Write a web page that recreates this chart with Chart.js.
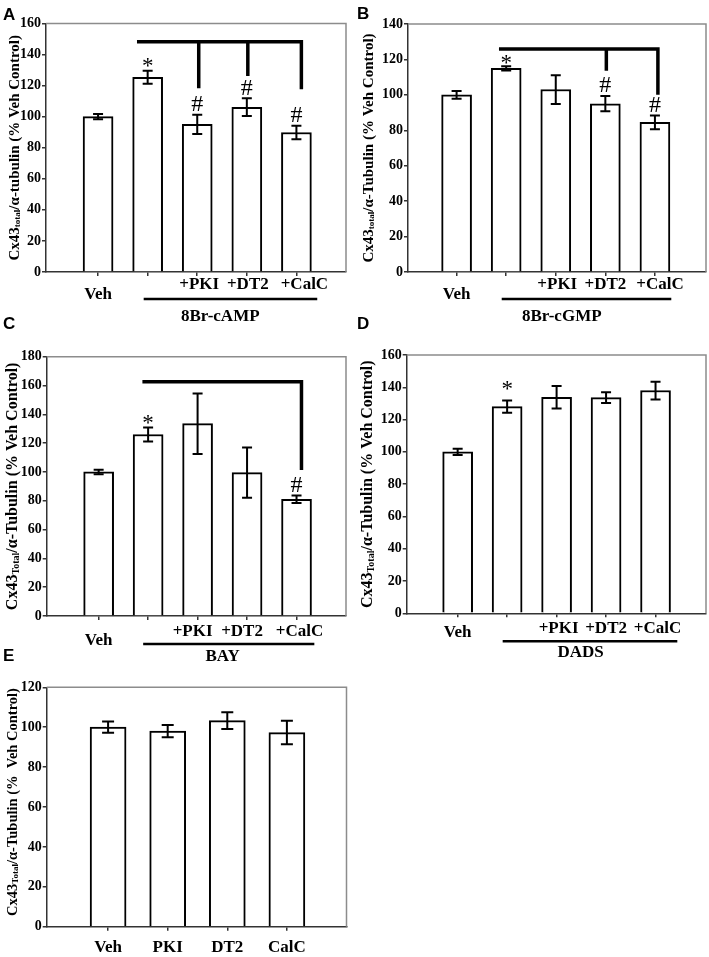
<!DOCTYPE html>
<html><head><meta charset="utf-8">
<script src="https://cdn.jsdelivr.net/npm/chart.js@4.4.1/dist/chart.umd.min.js"></script>
<style>
html,body{margin:0;padding:0;background:#fff;}
#wrap{position:relative;width:709px;height:957px;overflow:hidden;background:#fff;}
canvas{position:absolute;}
</style></head><body><div id="wrap">
<canvas id="cA" width="354" height="330" style="left:0px;top:0px"></canvas>
<canvas id="cB" width="355" height="330" style="left:354px;top:0px"></canvas>
<canvas id="cC" width="354" height="358" style="left:0px;top:310px"></canvas>
<canvas id="cD" width="355" height="358" style="left:354px;top:310px"></canvas>
<canvas id="cE" width="354" height="317" style="left:0px;top:640px"></canvas>
</div>
<script>
// ---------------- DATA ----------------
const catsA = ['Veh', '', '+PKI', '+DT2', '+CalC'];
const meanA = [100, 125.4, 95.1, 106.1, 89.8];
const errA  = [1.7, 4.2, 6.2, 5.7, 4.4];
const sigA  = ['', '*', '#', '#', '#'];
const yTicksA = [0, 20, 40, 60, 80, 100, 120, 140, 160];
const groupA = '8Br-cAMP';
const brA_y = 148.2, brA_from = 0.82;
const brA_dropX = [2.03, 3.02, 4.10];
const brA_dropY = [119.4, 127.4, 118.8];

const catsB = ['Veh', '', '+PKI', '+DT2', '+CalC'];
const meanB = [100, 115, 103, 95, 84.5];
const errB  = [2.2, 1.2, 8.1, 4.3, 3.9];
const sigB  = ['', '*', '', '#', '#'];
const yTicksB = [0, 20, 40, 60, 80, 100, 120, 140];
const groupB = '8Br-cGMP';
const brB_y = 125.9, brB_from = 0.89;
const brB_dropX = [3.02, 4.06];
const brB_dropY = [114.6, 101];

const catsC = ['Veh', '', '+PKI', '+DT2', '+CalC'];
const meanC = [100, 126, 133.5, 99.5, 81];
const errC  = [1.6, 4.8, 21, 17.5, 2.6];
const sigC  = ['', '*', '', '', '#'];
const yTicksC = [0, 20, 40, 60, 80, 100, 120, 140, 160, 180];
const groupC = 'BAY';
const brC_y = 162.6, brC_from = 0.92;
const brC_dropX = [4.10];
const brC_dropY = [102.5];

const catsD = ['Veh', '', '+PKI', '+DT2', '+CalC'];
const meanD = [100, 128, 133.8, 133.6, 138];
const errD  = [2, 3.8, 7, 3.3, 5.5];
const sigD  = ['', '*', '', '', ''];
const yTicksD = [0, 20, 40, 60, 80, 100, 120, 140, 160];
const groupD = 'DADS';

const catsE = ['Veh', 'PKI', 'DT2', 'CalC'];
const meanE = [100, 98, 103.3, 97.3];
const errE  = [2.8, 3.1, 4.2, 5.9];
const sigE  = ['', '', '', ''];
const yTicksE = [0, 20, 40, 60, 80, 100, 120];

// ---------------- DRAWING ----------------
const SERIF = '"Liberation Serif", "Times New Roman", serif';

function drawYTitle(ctx, cx, cy, parts) {
  ctx.save();
  ctx.translate(cx, cy);
  ctx.rotate(-Math.PI / 2);
  ctx.fillStyle = '#000';
  ctx.textBaseline = 'middle';
  ctx.textAlign = 'left';
  let total = 0;
  parts.forEach(p => { ctx.font = 'bold ' + p.size + 'px ' + SERIF; p.w = ctx.measureText(p.t).width; total += p.w; });
  let x = -total / 2;
  parts.forEach(p => { ctx.font = 'bold ' + p.size + 'px ' + SERIF; ctx.fillText(p.t, x, p.dy || 0); x += p.w; });
  ctx.restore();
}

function panel(id, c) {
  const el = document.getElementById(id);
  const data = c.means.map((v, i) => ({ x: i, y: v }));
  const deco = {
    id: 'deco' + id,
    afterDatasetsDraw(chart) {
      const ctx = chart.ctx, a = chart.chartArea, x = chart.scales.x, y = chart.scales.y;
      ctx.save();
      // box top/right
      ctx.strokeStyle = '#8c8c8c'; ctx.lineWidth = 1.5;
      ctx.beginPath(); ctx.moveTo(a.left, a.top); ctx.lineTo(a.right, a.top); ctx.lineTo(a.right, a.bottom); ctx.stroke();
      // error bars + markers
      ctx.strokeStyle = '#000'; ctx.lineWidth = 2; ctx.lineCap = 'butt';
      c.means.forEach((m, i) => {
        const px = x.getPixelForValue(i);
        const t = y.getPixelForValue(m + c.errs[i]);
        const b = y.getPixelForValue(m - c.errs[i]);
        ctx.beginPath();
        ctx.moveTo(px, t); ctx.lineTo(px, b);
        ctx.moveTo(px - c.cap, t); ctx.lineTo(px + c.cap, t);
        ctx.moveTo(px - c.cap, b); ctx.lineTo(px + c.cap, b);
        ctx.stroke();
        const s = c.sig[i];
        if (s) {
          ctx.fillStyle = '#000'; ctx.textAlign = 'center'; ctx.textBaseline = 'alphabetic';
          if (s === '*') {
            ctx.font = '23px ' + SERIF;
            const cy = t - c.starGap;
            ctx.fillText(s, px, cy + 0.46 * 23);
          } else {
            ctx.font = '24px ' + SERIF;
            const cy = t - c.hashGap;
            ctx.fillText(s, px, cy + 0.34 * 24);
          }
        }
      });
      // bracket
      if (c.br) {
        ctx.strokeStyle = '#000'; ctx.lineWidth = 3.5; ctx.lineCap = 'square';
        const yy = y.getPixelForValue(c.br.y);
        const last = c.br.dropX[c.br.dropX.length - 1];
        ctx.beginPath();
        ctx.moveTo(x.getPixelForValue(c.br.from), yy);
        ctx.lineTo(x.getPixelForValue(last), yy);
        c.br.dropX.forEach((dx, k) => {
          ctx.moveTo(x.getPixelForValue(dx), yy);
          ctx.lineTo(x.getPixelForValue(dx), y.getPixelForValue(c.br.dropY[k]));
        });
        ctx.stroke();
      }
      ctx.restore();
    },
    afterDraw(chart) {
      const ctx = chart.ctx, a = chart.chartArea, x = chart.scales.x;
      ctx.save();
      ctx.fillStyle = '#000';
      ctx.textAlign = 'center'; ctx.textBaseline = 'middle';
      ctx.font = 'bold 17px ' + SERIF;
      c.cats.forEach((lab, i) => {
        if (!lab) return;
        const px = x.getPixelForValue(i) + (c.labOff ? c.labOff[i] : 0);
        const yy = a.bottom + ((c.group && i === 0) ? c.vehY : c.catY);
        ctx.fillText(lab, px, yy);
      });
      if (c.group) {
        ctx.strokeStyle = '#000'; ctx.lineWidth = 2.5;
        ctx.beginPath();
        ctx.moveTo(x.getPixelForValue(c.lineFrom), a.bottom + c.lineY);
        ctx.lineTo(x.getPixelForValue(c.lineTo), a.bottom + c.lineY);
        ctx.stroke();
        ctx.fillText(c.group, x.getPixelForValue(2) + c.groupOff, a.bottom + c.groupY);
      }
      // y title
      drawYTitle(ctx, c.titleX, (a.top + a.bottom) / 2 + (c.titleDy || 0), c.title);
      // panel letter
      ctx.textAlign = 'left'; ctx.textBaseline = 'alphabetic';
      ctx.font = 'bold 17px "Liberation Sans", Arial, sans-serif';
      ctx.fillText(c.letter, 3, c.letterY);
      ctx.restore();
    }
  };
  return new Chart(el, {
    type: 'bar',
    data: { datasets: [{ data: data, backgroundColor: '#ffffff', borderColor: '#000000', borderWidth: 2, barThickness: c.barW, borderSkipped: 'bottom' }] },
    options: {
      responsive: false, animation: false, devicePixelRatio: 1,
      layout: { autoPadding: false, padding: { left: 0, top: c.padT, right: c.padR, bottom: 0 } },
      plugins: { legend: { display: false }, tooltip: { enabled: false } },
      scales: {
        x: {
          type: 'linear', min: c.xmin, max: c.xmax, offset: false,
          afterBuildTicks: s => { s.ticks = c.means.map((_, i) => ({ value: i })); },
          afterFit: s => { s.height = c.xH; },
          ticks: { display: false },
          grid: { display: true, offset: false, drawOnChartArea: false, drawTicks: true, tickLength: 4, color: '#333', lineWidth: 1.5 },
          border: { display: true, color: '#333', width: 1.5 }
        },
        y: {
          type: 'linear', min: 0, max: c.yTicks[c.yTicks.length - 1],
          afterBuildTicks: s => { s.ticks = c.yTicks.map(v => ({ value: v })); },
          afterFit: s => { s.width = c.yW; },
          ticks: { color: '#000', padding: 1, font: { family: SERIF, size: 14, weight: 'bold' } },
          grid: { display: true, drawOnChartArea: false, drawTicks: true, tickLength: 4, color: '#333', lineWidth: 1.5 },
          border: { display: true, color: '#333', width: 1.5 }
        }
      }
    },
    plugins: [deco]
  });
}

function titleParts(sub, tub, size, pct) {
  return [
    { t: 'Cx43', size: size },
    { t: sub, size: Math.round(size * 0.6), dy: 3 },
    { t: '/α-' + tub + ' (%' + (pct || ' ') + 'Veh Control)', size: size }
  ];
}

panel('cA', {
  cats: catsA, means: meanA, errs: errA, sig: sigA, yTicks: yTicksA, group: groupA,
  br: { y: brA_y, from: brA_from, dropX: brA_dropX, dropY: brA_dropY },
  xmin: -1.05, xmax: 5.0, yW: 46, padT: 23.5, padR: 8, xH: 58, barW: 30, cap: 5,
  starGap: 8, hashGap: 12,
  catY: 13, vehY: 23, lineY: 27, groupY: 45, groupOff: 23, lineFrom: 0.92, lineTo: 4.42,
  labOff: [0, 0, 2, 1, 8],
  titleX: 15, title: titleParts('total', 'tubulin', 15), letter: 'A', letterY: 20
});
panel('cB', {
  cats: catsB, means: meanB, errs: errB, sig: sigB, yTicks: yTicksB, group: groupB,
  br: { y: brB_y, from: brB_from, dropX: brB_dropX, dropY: brB_dropY },
  xmin: -0.98, xmax: 5.03, yW: 54, padT: 24, padR: 3, xH: 58, barW: 30, cap: 5,
  starGap: 7, hashGap: 12,
  catY: 13, vehY: 23, lineY: 27, groupY: 45, groupOff: 6, lineFrom: 0.91, lineTo: 4.33,
  labOff: [0, 0, 1.5, 0, 5],
  titleX: 15, title: titleParts('total', 'Tubulin', 15), letter: 'B', letterY: 19
});
panel('cC', {
  cats: catsC, means: meanC, errs: errC, sig: sigC, yTicks: yTicksC, group: groupC,
  br: { y: brC_y, from: brC_from, dropX: brC_dropX, dropY: brC_dropY },
  xmin: -1.05, xmax: 5.0, yW: 46.7, padT: 46.7, padR: 8, xH: 52, barW: 30, cap: 5,
  starGap: 8, hashGap: 12,
  catY: 15.5, vehY: 25, lineY: 28, groupY: 41, groupOff: 25, lineFrom: 0.9, lineTo: 4.36,
  labOff: [0, 0, -5, -5, 3],
  titleX: 13, title: titleParts('Total', 'Tubulin', 16), letter: 'C', letterY: 19
});
panel('cD', {
  cats: catsD, means: meanD, errs: errD, sig: sigD, yTicks: yTicksD, group: groupD,
  xmin: -1.03, xmax: 5.02, yW: 52.7, padT: 45, padR: 3, xH: 54.7, barW: 30, cap: 5,
  starGap: 15, hashGap: 12,
  catY: 15, vehY: 19.5, lineY: 28, groupY: 39.5, groupOff: 24, lineFrom: 0.91, lineTo: 4.44,
  labOff: [0, 0, 2, 0, 2],
  titleX: 14, title: titleParts('Total', 'Tubulin', 16), letter: 'D', letterY: 19
});
panel('cE', {
  cats: catsE, means: meanE, errs: errE, sig: sigE, yTicks: yTicksE, group: null,
  xmin: -1.03, xmax: 4.0, yW: 46.7, padT: 47.3, padR: 7.5, xH: 30.3, barW: 36, cap: 6,
  starGap: 8, hashGap: 12,
  catY: 21, vehY: 21,
  titleX: 13, titleDy: -5, title: titleParts('Total', 'Tubulin', 14.5, '  '), letter: 'E', letterY: 21
});
</script>
</body></html>
